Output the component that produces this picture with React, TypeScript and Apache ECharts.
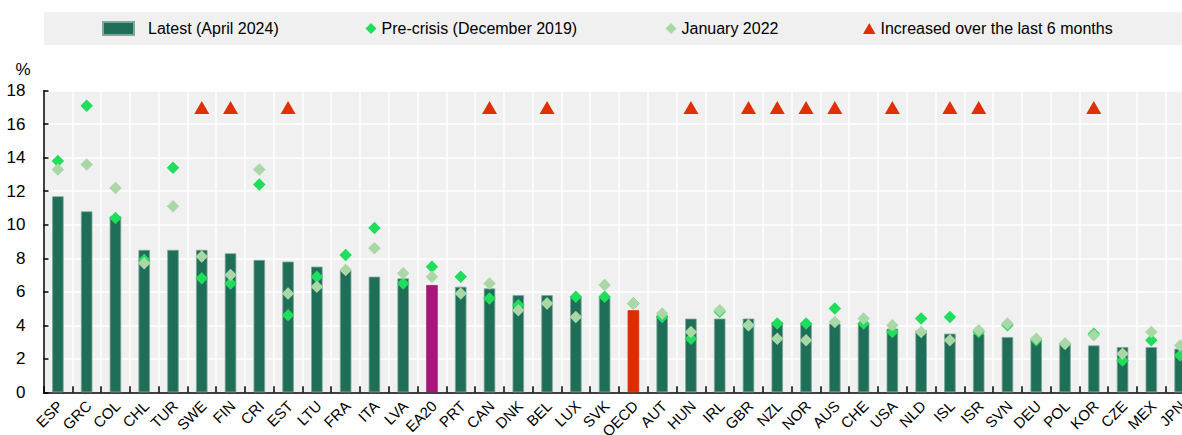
import React, { useEffect, useRef } from "react";
import * as echarts from "echarts";

const categories = ["ESP","GRC","COL","CHL","TUR","SWE","FIN","CRI","EST","LTU","FRA","ITA","LVA","EA20","PRT","CAN","DNK","BEL","LUX","SVK","OECD","AUT","HUN","IRL","GBR","NZL","NOR","AUS","CHE","USA","NLD","ISL","ISR","SVN","DEU","POL","KOR","CZE","MEX","JPN"];
const latest = [11.7,10.8,10.5,8.5,8.5,8.5,8.3,7.9,7.8,7.5,7.3,6.9,6.8,6.4,6.3,6.2,5.8,5.8,5.7,5.7,4.9,4.6,4.4,4.4,4.4,4.2,4.1,4.1,4.1,3.8,3.7,3.5,3.5,3.3,3.1,2.9,2.8,2.7,2.7,2.6];
const preCrisis = [13.8,17.1,10.4,7.9,13.4,6.8,6.5,12.4,4.6,6.9,8.2,9.8,6.5,7.5,6.9,5.6,5.2,5.3,5.7,5.7,5.3,4.5,3.2,4.8,4.0,4.1,4.1,5.0,4.1,3.6,4.4,4.5,3.6,4.0,3.1,2.9,3.5,1.9,3.1,2.2];
const jan2022 = [13.3,13.6,12.2,7.7,11.1,8.1,7.0,13.3,5.9,6.3,7.3,8.6,7.1,6.9,5.9,6.5,4.9,5.3,4.5,6.4,5.3,4.7,3.6,4.9,4.0,3.2,3.1,4.2,4.4,4.0,3.6,3.1,3.7,4.1,3.2,2.9,3.4,2.3,3.6,2.8];
const increased = ["SWE","FIN","EST","CAN","BEL","HUN","GBR","NZL","NOR","AUS","USA","ISL","ISR","KOR"];
const increasedLevel = 17;
const yTicks = { min: 0, max: 18, interval: 2 };
const highlight: Record<string, string> = { EA20: "#a8167a", OECD: "#e02b00" };

const FONT = "'Liberation Sans', Arial, sans-serif";
const BAR = "#1f6e5a";
const PRE = "#20dd5c";
const JAN = "#a9d7a6";
const TRI = "#e03000";
const CHART_W = 1195;

export default function App() {
  const ref = useRef<HTMLDivElement>(null);
  useEffect(() => {
    if (!ref.current) return;
    const chart = echarts.init(ref.current, undefined, { renderer: "svg" });
    const legendText = { fontFamily: FONT, fontSize: 16, color: "#000", lineHeight: 16 };
    chart.setOption({
      animation: false,
      textStyle: { fontFamily: FONT },
      graphic: [
        { type: "rect", z: 0, shape: { x: 44, y: 12, width: 1150, height: 33 }, style: { fill: "#f0f0f0" } },
        { type: "text", x: 23, y: 69, style: { text: "%", fontFamily: FONT, fontSize: 17, fill: "#000", align: "center", verticalAlign: "middle" } },
      ],
      legend: [
        { left: 102, top: 20.5, padding: 0, itemWidth: 31, itemHeight: 13, icon: "rect", data: ["Latest (April 2024)"], textStyle: { ...legendText, padding: [0, 0, 0, 9] }, selectedMode: false },
        { left: 365.5, top: 20.5, padding: 0, itemWidth: 11, itemHeight: 11, icon: "diamond", data: ["Pre-crisis (December 2019)"], textStyle: legendText, selectedMode: false },
        { left: 665.5, top: 20.5, padding: 0, itemWidth: 11, itemHeight: 11, icon: "diamond", data: ["January 2022"], textStyle: legendText, selectedMode: false },
        { left: 863, top: 20.5, padding: 0, itemWidth: 12.5, itemHeight: 11, icon: "triangle", data: ["Increased over the last 6 months"], textStyle: legendText, selectedMode: false },
      ],
      grid: { left: 43.5, right: 0.5, top: 90.7, bottom: 42.7, show: true, backgroundColor: "#f0f0f0", borderWidth: 0, containLabel: false, outerBoundsMode: "none" },
      xAxis: {
        type: "category",
        data: categories,
        axisLine: { lineStyle: { color: "#000", width: 1.5 } },
        axisTick: { show: true, inside: true, length: 6, interval: 0, lineStyle: { color: "#000", width: 1.5 } },
        axisLabel: { show: false },
        splitLine: { show: true, interval: 0, lineStyle: { color: "#fff", width: 1.5 } },
      },
      yAxis: {
        type: "value",
        min: yTicks.min,
        max: yTicks.max,
        interval: yTicks.interval,
        axisLine: { show: true, lineStyle: { color: "#000", width: 1.5 } },
        axisTick: { show: true, inside: true, length: 5, lineStyle: { color: "#000", width: 1.5 } },
        axisLabel: { margin: 18, fontFamily: FONT, fontSize: 17, color: "#000" },
        splitLine: { show: true, lineStyle: { color: "#fff", width: 1.5 } },
      },
      series: [
        {
          name: "Latest (April 2024)",
          type: "bar",
          barWidth: 11.5,
          itemStyle: { color: BAR, borderColor: "#7ea898", borderWidth: 0.8 },
          data: latest.map((v, i) => highlight[categories[i]]
            ? { value: v, itemStyle: { color: highlight[categories[i]], borderColor: highlight[categories[i]] } }
            : v),
          z: 2,
        },
        {
          name: "Pre-crisis (December 2019)",
          type: "scatter",
          symbol: "diamond",
          symbolSize: 12.5,
          itemStyle: { color: PRE, opacity: 1 },
          data: preCrisis,
          z: 3,
        },
        {
          name: "January 2022",
          type: "scatter",
          symbol: "diamond",
          symbolSize: 12.5,
          itemStyle: { color: JAN, opacity: 1 },
          data: jan2022,
          z: 4,
        },
        {
          name: "Increased over the last 6 months",
          type: "scatter",
          symbol: "triangle",
          symbolSize: [15, 13],
          itemStyle: { color: TRI, opacity: 1 },
          data: categories.map((c) => (increased.includes(c) ? increasedLevel : null)),
          z: 4,
        },
        {
          name: "axis labels",
          type: "custom",
          silent: true,
          clip: false,
          z: 5,
          data: categories.map((c, i) => [i, 0]),
          renderItem: (params: any, api: any) => {
            const p = api.coord([api.value(0), 0]);
            return {
              type: "text",
              x: p[0] + 2,
              y: p[1] + 11,
              rotation: Math.PI / 4,
              style: {
                text: categories[params.dataIndex],
                fontFamily: FONT,
                fontSize: 15,
                fill: "#000",
                align: "right",
                verticalAlign: "middle",
              },
            };
          },
        },
      ],
    });
    return () => chart.dispose();
  }, []);
  return (
    <div style={{ position: "absolute", left: 0, top: 0, width: 1182, height: 435, overflow: "hidden" }}>
      <div ref={ref} style={{ width: CHART_W, height: 435 }} />
    </div>
  );
}
